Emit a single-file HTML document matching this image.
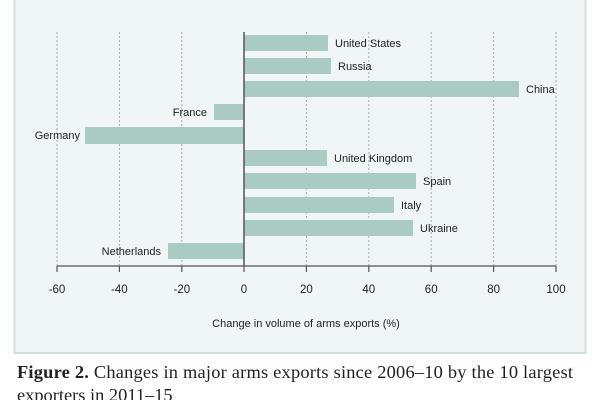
<!DOCTYPE html>
<html><head><style>
body{margin:0;width:600px;height:400px;background:#fff;overflow:hidden;font-family:"Liberation Sans",sans-serif}
</style></head><body>
<svg width="600" height="400" xmlns="http://www.w3.org/2000/svg" style="position:absolute;left:0;top:0">
<rect x="14.5" y="-5" width="571" height="358" fill="#f0f5f5" stroke="#cfe0de" stroke-width="2"/>
<g stroke="#aaa" stroke-width="1" stroke-dasharray="2,2">
<line x1="57" y1="32" x2="57" y2="266"/><line x1="119.4" y1="32" x2="119.4" y2="266"/><line x1="181.8" y1="32" x2="181.8" y2="266"/>
<line x1="306.4" y1="32" x2="306.4" y2="266"/><line x1="368.8" y1="32" x2="368.8" y2="266"/><line x1="431.2" y1="32" x2="431.2" y2="266"/>
<line x1="493.6" y1="32" x2="493.6" y2="266"/><line x1="556" y1="32" x2="556" y2="266"/>
</g>
<g fill="#a9cbc4">
<rect x="244" y="35" width="84" height="16"/>
<rect x="244" y="58" width="87" height="16"/>
<rect x="244" y="81" width="275" height="16"/>
<rect x="214" y="104" width="30" height="16"/>
<rect x="85" y="127" width="159" height="17"/>
<rect x="244" y="150" width="83" height="16"/>
<rect x="244" y="173" width="172" height="16"/>
<rect x="244" y="197" width="150" height="16"/>
<rect x="244" y="220" width="169" height="16"/>
<rect x="168" y="243" width="76" height="16"/>
</g>
<line x1="244" y1="32" x2="244" y2="266" stroke="#555" stroke-width="1.5"/>
<line x1="57" y1="266" x2="556" y2="266" stroke="#555" stroke-width="1.2"/>
<g stroke="#555" stroke-width="1.2">
<line x1="57" y1="266" x2="57" y2="272"/><line x1="119.4" y1="266" x2="119.4" y2="272"/><line x1="181.8" y1="266" x2="181.8" y2="272"/><line x1="244" y1="266" x2="244" y2="272"/>
<line x1="306.4" y1="266" x2="306.4" y2="272"/><line x1="368.8" y1="266" x2="368.8" y2="272"/><line x1="431.2" y1="266" x2="431.2" y2="272"/><line x1="493.6" y1="266" x2="493.6" y2="272"/><line x1="556" y1="266" x2="556" y2="272"/>
</g>
<g font-size="11" fill="#222">
<text x="335" y="47">United States</text>
<text x="338" y="70">Russia</text>
<text x="526" y="93">China</text>
<text x="207" y="116" text-anchor="end">France</text>
<text x="80" y="139" text-anchor="end">Germany</text>
<text x="334" y="162">United Kingdom</text>
<text x="423" y="185">Spain</text>
<text x="401" y="209">Italy</text>
<text x="420" y="232">Ukraine</text>
<text x="161" y="255" text-anchor="end">Netherlands</text>
</g>
<g font-size="11.5" fill="#222" text-anchor="middle">
<text x="57" y="293">-60</text><text x="119.4" y="293">-40</text><text x="181.8" y="293">-20</text><text x="244" y="293">0</text>
<text x="306.4" y="293">20</text><text x="368.8" y="293">40</text><text x="431.2" y="293">60</text><text x="493.6" y="293">80</text><text x="556" y="293">100</text>
<text x="306" y="327" font-size="11">Change in volume of arms exports (%)</text>
</g>
<g font-family="Liberation Serif,serif" font-size="18.4" fill="#222">
<text x="17" y="378" textLength="556" lengthAdjust="spacing"><tspan font-weight="bold">Figure 2.</tspan> Changes in major arms exports since 2006–10 by the 10 largest</text>
<text x="17" y="401">exporters in 2011–15</text>
</g>
</svg>
</body></html>
